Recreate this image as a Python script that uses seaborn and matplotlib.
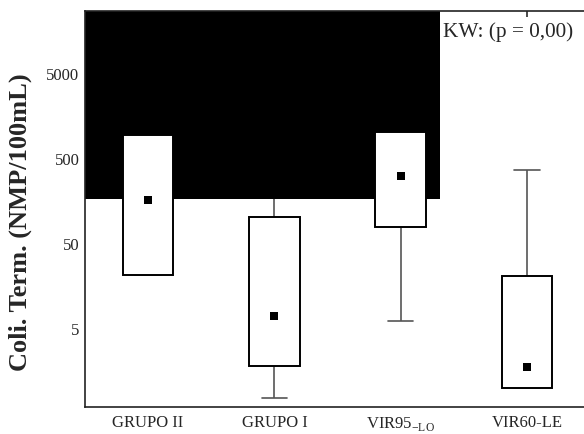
import numpy as np
import pandas as pd
import matplotlib
matplotlib.use("Agg")
import matplotlib.pyplot as plt
from matplotlib.patches import Rectangle
import seaborn as sns

# Five-number summaries (min, Q1, median, Q3, max) of thermotolerant coliforms
groups = ["GRUPO II", "GRUPO I", "VIR95", "VIR60-LE"]
mins = [21.0, 0.75, 6.0, 0.98]
q1s = [21.0, 1.8, 77.0, 0.98]
medians = [160.0, 6.9, 307.0, 1.74]
q3s = [930.0, 101.0, 1010.0, 20.5]
maxs = [930.0, 600.0, 1010.0, 361.0]
tick_labels = ["GRUPO II", "GRUPO I", r"VIR95$_{\mathregular{-LO}}$", "VIR60-LE"]
y_ticks = [5, 50, 500, 5000]
annotation = "KW: (p = 0,00)"

# Shaded block in the upper-left part of the plot (x from left edge, y from 165 upward)
shade_x_end = 2.311
shade_y_start = 165.0

sns.set_theme(style="white")
plt.rcParams["font.family"] = ["Liberation Serif", "DejaVu Serif"]
plt.rcParams["mathtext.fontset"] = "custom"
plt.rcParams["mathtext.rm"] = "Liberation Serif"

rows = []
for g, a, b, c, d, e in zip(groups, mins, q1s, medians, q3s, maxs):
    for v in (a, b, c, d, e):
        rows.append({"group": g, "value": v})
df = pd.DataFrame(rows)
med_df = pd.DataFrame({"group": groups, "value": medians})

fig = plt.figure(figsize=(5.84, 4.35), dpi=100)
ax = fig.add_axes([0.1455, 0.062, 0.865, 0.9104])

sns.boxplot(
    data=df, x="group", y="value", order=groups, ax=ax,
    whis=(0, 100), width=0.4, fliersize=0, log_scale=True,
    color="white", linecolor="black", linewidth=1.3,
    whiskerprops=dict(color="#555555", linewidth=1.2),
    capprops=dict(color="#555555", linewidth=1.2),
    medianprops=dict(visible=False),
    boxprops=dict(facecolor="white", edgecolor="black", linewidth=1.4),
)

# Layering: whiskers behind the shaded block, boxes on top of it
for cont in ax.containers:
    for ln in list(cont.whiskers) + list(cont.caps):
        ln.set_zorder(1)
    for bx in cont.boxes:
        bx.set_zorder(3)

sns.stripplot(
    data=med_df, x="group", y="value", order=groups, ax=ax,
    jitter=False, marker="s", color="black", size=6, zorder=4,
)

ax.set_ylim(0.589, 26800)
ax.set_xlim(-0.5, 3.5)

ax.add_patch(Rectangle((-0.5, shade_y_start), shade_x_end + 0.5, 1e6,
                       facecolor="black", edgecolor="none", zorder=2))

ax.set_yticks(y_ticks)
ax.set_yticklabels([str(t) for t in y_ticks], fontsize=12)
ax.yaxis.set_minor_locator(matplotlib.ticker.NullLocator())
ax.tick_params(axis="y", length=0, pad=4)
ax.set_xticks(range(len(groups)))
ax.set_xticklabels(tick_labels, fontsize=12)
ax.tick_params(axis="x", direction="in", length=4, top=True, color="#333333", pad=5)

ax.set_xlabel("")
ax.set_ylabel("")
fig.text(20 / 584, 1 - 222 / 435, "Coli. Term. (NMP/100mL)", fontsize=19,
         fontweight="bold", rotation=90, ha="center", va="center")

for side in ("left", "bottom", "top", "right"):
    ax.spines[side].set_color("#222222")
    ax.spines[side].set_linewidth(1.2)
    ax.spines[side].set_visible(True)

ax.text(0.709, 0.948, annotation, transform=ax.transAxes, fontsize=15.3,
        ha="left", va="center", zorder=5)

fig.savefig("out.png", dpi=100)
